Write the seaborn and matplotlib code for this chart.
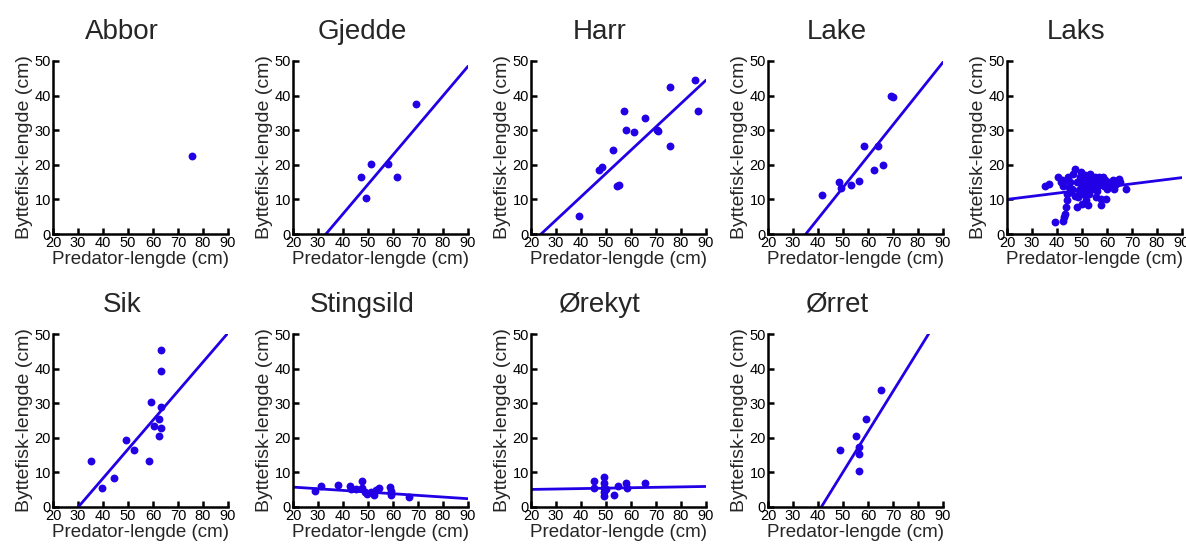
import numpy as np
import pandas as pd
import matplotlib
matplotlib.use("Agg")
import matplotlib.pyplot as plt
import seaborn as sns

# Predator length (x, cm) and prey fish length (y, cm) per predator species
abbor_pred = [75.5]
abbor_prey = [22.5]

gjedde_pred = [47.0, 49.0, 51.0, 58.0, 61.5, 69.0]
gjedde_prey = [16.4, 10.3, 20.3, 20.3, 16.4, 37.5]

harr_pred = [39.2, 47.1, 48.3, 52.6, 54.3, 55.3, 57.2, 57.8, 61.3, 65.4,
             70.4, 70.6, 75.4, 75.4, 85.5, 86.6]
harr_prey = [5.3, 18.4, 19.3, 24.4, 13.8, 14.3, 35.6, 30.0, 29.5, 33.5,
             30.2, 29.7, 42.6, 25.4, 44.5, 35.5]

lake_pred = [41.5, 48.3, 49.3, 53.4, 56.5, 58.4, 62.4, 64.0, 66.0, 69.4, 69.9]
lake_prey = [11.3, 15.0, 13.2, 14.3, 15.3, 25.4, 18.4, 25.4, 19.9, 39.9, 39.6]

laks_pred = [35.2, 36.9, 39.2, 40.3, 42.0, 42.4, 42.6, 43.3, 43.7, 44.0,
             44.0, 44.2, 44.6, 45.3, 46.4, 47.3, 48.0, 48.3, 48.7, 49.1,
             49.4, 49.4, 50.1, 50.5, 50.7, 51.4, 51.8, 52.1, 52.4, 52.8,
             53.2, 53.7, 54.1, 54.8, 55.1, 55.5, 55.9, 56.1, 56.8, 57.2,
             57.5, 57.5, 58.2, 58.6, 59.1, 59.5, 59.9, 60.2, 61.5, 62.2,
             62.9, 63.6, 64.3, 64.6, 65.0, 67.6, 42.5, 46.0, 47.0, 50.0,
             52.0, 54.0, 44.0, 48.0, 51.0, 41.5, 45.5, 53.0, 56.0, 60.5]
laks_prey = [13.8, 14.5, 3.4, 16.4, 15.5, 3.7, 4.8, 5.8, 7.7, 9.7,
             11.6, 16.4, 13.5, 15.0, 17.4, 18.9, 7.7, 10.6, 12.6, 16.4,
             17.9, 14.5, 8.7, 11.6, 15.0, 9.7, 13.5, 15.9, 8.4, 11.6,
             17.4, 15.5, 13.1, 14.5, 16.4, 10.6, 15.5, 13.5, 16.4, 14.5,
             10.2, 8.4, 16.4, 14.0, 15.5, 10.2, 13.1, 15.0, 14.0, 15.5,
             13.1, 14.5, 15.5, 16.0, 15.0, 13.1, 14.0, 13.0, 11.0, 13.0,
             12.0, 14.0, 15.5, 15.0, 17.0, 15.0, 12.0, 14.5, 12.5, 14.0]

sik_pred = [35.3, 39.4, 44.2, 49.2, 52.3, 58.4, 59.3, 60.2, 62.3, 62.3,
            63.3, 63.3, 63.3, 63.3]
sik_prey = [13.4, 5.5, 8.4, 19.4, 16.5, 13.4, 30.4, 23.4, 25.4, 20.4,
            45.3, 39.4, 28.9, 22.9]

stingsild_pred = [28.8, 31.2, 38.0, 42.7, 43.0, 45.0, 47.4, 47.4, 48.8, 49.5,
                  51.1, 52.2, 53.1, 54.2, 58.9, 59.2, 59.2, 66.2]
stingsild_prey = [4.6, 6.0, 6.5, 6.0, 5.1, 5.3, 7.5, 5.5, 4.3, 3.8,
                  4.3, 3.4, 4.8, 5.5, 5.7, 4.6, 3.4, 2.9]

orekyt_pred = [45.0, 45.0, 49.1, 49.1, 49.1, 49.1, 49.1, 50.1, 53.2, 54.8,
               57.8, 58.2, 65.4]
orekyt_prey = [7.5, 5.5, 8.6, 7.0, 5.5, 4.3, 3.2, 5.3, 3.4, 6.0,
               7.0, 5.5, 7.0]

orret_pred = [48.9, 55.3, 56.3, 56.5, 56.5, 59.3, 65.4]
orret_prey = [16.5, 20.4, 17.4, 15.4, 10.3, 25.4, 33.9]

species = ["Abbor", "Gjedde", "Harr", "Lake", "Laks",
           "Sik", "Stingsild", "Ørekyt", "Ørret"]
pred_lengths = [abbor_pred, gjedde_pred, harr_pred, lake_pred, laks_pred,
                sik_pred, stingsild_pred, orekyt_pred, orret_pred]
prey_lengths = [abbor_prey, gjedde_prey, harr_prey, lake_prey, laks_prey,
                sik_prey, stingsild_prey, orekyt_prey, orret_prey]

# Linear fit per species (None where only one observation)
fit_slope = [None, 0.853, 0.674, 0.905, 0.090, 0.840, -0.0479, 0.0123, 1.166]
fit_intercept = [None, -28.3, -16.2, -31.8, 8.2, -25.3, 6.71, 4.83, -48.2]

x_ticks = [20, 30, 40, 50, 60, 70, 80, 90]
y_ticks = [0, 10, 20, 30, 40, 50]

points = pd.DataFrame({
    "art": np.repeat(species, [len(p) for p in pred_lengths]),
    "pred": np.concatenate(pred_lengths),
    "prey": np.concatenate(prey_lengths),
})

sns.set_style("ticks")
plt.rcParams["font.family"] = ["Liberation Sans", "DejaVu Sans"]

BLUE = "#2200e6"
W, H = 1186, 549
fig = plt.figure(figsize=(W / 100, H / 100), dpi=100)

col_left = [53, 293, 531, 768, 1007]
row_top = [61, 334]
ax_w, ax_h = 175, 173

for i, name in enumerate(species):
    r, c = divmod(i, 5)
    left = col_left[c] / W
    bottom = (H - row_top[r] - ax_h) / H
    ax = fig.add_axes([left, bottom, ax_w / W, ax_h / H])

    sub = points[points["art"] == name]
    sns.scatterplot(data=sub, x="pred", y="prey", ax=ax, color=BLUE,
                    s=32, linewidth=0, zorder=3, legend=False)

    if fit_slope[i] is not None:
        xs = np.linspace(x_ticks[0], x_ticks[-1], 200)
        line = pd.DataFrame({"pred": xs,
                             "prey": fit_intercept[i] + fit_slope[i] * xs})
        sns.lineplot(data=line, x="pred", y="prey", ax=ax, color=BLUE,
                     linewidth=2.0, zorder=2)

    ax.set_xlim(x_ticks[0], x_ticks[-1])
    ax.set_ylim(y_ticks[0], y_ticks[-1])
    ax.set_xticks(x_ticks)
    ax.set_yticks(y_ticks)
    ax.tick_params(direction="in", length=4, width=1.8, labelsize=10.5,
                   pad=1.5, colors="black")
    for side in ("left", "bottom"):
        ax.spines[side].set_linewidth(1.8)
        ax.spines[side].set_color("black")
    sns.despine(ax=ax)

    ax.set_xlabel("Predator-lengde (cm)", fontsize=13.5, labelpad=0.5)
    ax.set_ylabel("Byttefisk-lengde (cm)", fontsize=14, labelpad=1)
    ax.set_title(name, fontsize=20, x=0.395, pad=16)

fig.savefig("out.png", dpi=100)
